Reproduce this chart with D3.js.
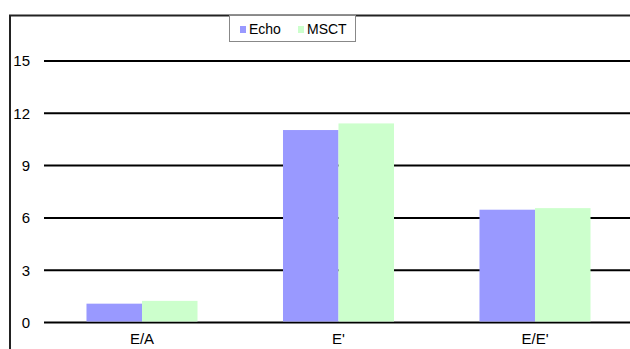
<!DOCTYPE html>
<html>
<head>
<meta charset="utf-8">
<script src="https://cdnjs.cloudflare.com/ajax/libs/d3/7.8.5/d3.min.js"></script>
<style>
  html, body { margin: 0; padding: 0; background: #fff; }
  svg { display: block; font-family: "Liberation Sans", Arial, sans-serif; }
</style>
</head>
<body>
<svg id="chart" width="630" height="349"></svg>
<script>
// Categories, series and axis ticks
const categories = ["E/A", "E'", "E/E'"];
const echoValues = [1.08, 11.04, 6.47];
const msctValues = [1.24, 11.42, 6.56];
const seriesNames = ["Echo", "MSCT"];
const seriesColors = ["#9999FF", "#CCFFCC"];
const yTicks = [0, 3, 6, 9, 12, 15];

const svg = d3.select("#chart");

const x = d3.scaleBand()
  .domain(categories)
  .range([43.75, 633.25])
  .paddingInner(0.435)
  .paddingOuter(0.2175);

const xSeries = d3.scaleBand()
  .domain(seriesNames)
  .range([0, x.bandwidth()]);

const y = d3.scaleLinear().domain([0, 15]).range([322.5, 61]);

// Outer frame (left and top edges visible)
svg.append("path")
  .attr("d", "M10,349 V15.5 H630")
  .attr("fill", "none")
  .attr("stroke", "#222")
  .attr("stroke-width", 2);

// Value axis labels
const yAxis = d3.axisLeft(y)
  .tickValues(yTicks)
  .tickSize(0)
  .tickPadding(0)
  .tickFormat(d3.format("d"));

const gy = svg.append("g")
  .attr("transform", "translate(30,0)")
  .call(yAxis);
gy.select(".domain").remove();
gy.selectAll("text")
  .attr("font-size", 15)
  .attr("fill", "#000")
  .attr("font-family", "Liberation Sans, Arial, sans-serif");

// Horizontal gridlines
svg.append("g")
  .selectAll("line")
  .data(yTicks)
  .join("line")
  .attr("x1", 44)
  .attr("x2", 630)
  .attr("y1", d => y(d))
  .attr("y2", d => y(d))
  .attr("stroke", "#000")
  .attr("stroke-width", 2);

// Bars
const rows = categories.map((c, i) => ({
  cat: c,
  vals: [
    { name: "Echo", value: echoValues[i] },
    { name: "MSCT", value: msctValues[i] }
  ]
}));

const groups = svg.append("g")
  .selectAll("g")
  .data(rows)
  .join("g")
  .attr("transform", d => `translate(${x(d.cat)},0)`);

groups.selectAll("rect")
  .data(d => d.vals)
  .join("rect")
  .attr("x", d => xSeries(d.name))
  .attr("width", xSeries.bandwidth())
  .attr("y", d => y(d.value))
  .attr("height", d => y(0) - y(d.value) - 1)
  .attr("fill", (d, i) => seriesColors[i]);

// Category labels
const xAxis = d3.axisBottom(x).tickSize(0).tickPadding(0);
const gx = svg.append("g")
  .attr("transform", "translate(0,333)")
  .call(xAxis);
gx.select(".domain").remove();
gx.selectAll("text")
  .attr("font-size", 15)
  .attr("fill", "#000")
  .attr("font-family", "Liberation Sans, Arial, sans-serif");

// Legend
const legend = svg.append("g");
legend.append("rect")
  .attr("x", 229.5).attr("y", 15.5)
  .attr("width", 126).attr("height", 26)
  .attr("fill", "#fff")
  .attr("stroke", "#888")
  .attr("stroke-width", 1);

const legendX = [240, 298];
seriesNames.forEach((name, i) => {
  legend.append("rect")
    .attr("x", legendX[i]).attr("y", 26)
    .attr("width", 6).attr("height", 7)
    .attr("fill", seriesColors[i]);
  legend.append("text")
    .attr("x", legendX[i] + 9).attr("y", 34)
    .attr("font-size", 14)
    .attr("fill", "#000")
    .text(name);
});
</script>
</body>
</html>
